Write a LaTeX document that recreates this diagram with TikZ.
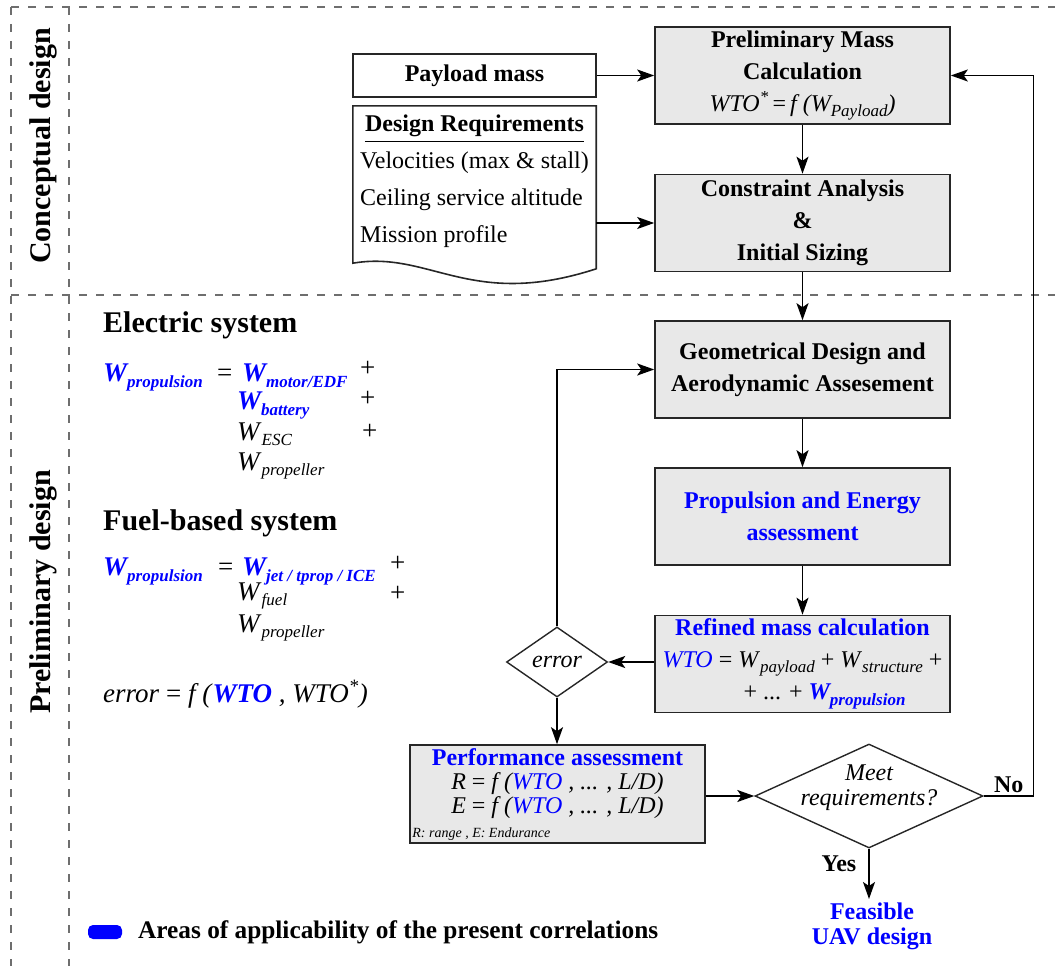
\documentclass[tikz,border=0pt]{standalone}
\usepackage{fontspec}
\setmainfont{Liberation Serif}
\usetikzlibrary{arrows.meta, shapes.geometric, positioning}

\definecolor{uavblue}{RGB}{0,0,255}
\definecolor{boxgray}{RGB}{232,232,232}
\definecolor{dashgray}{RGB}{110,110,110}

% W with a lowered subscript, plain and highlighted
\newcommand{\Wi}[1]{\textit{W}\raisebox{-5pt}{\fontsize{17}{17}\selectfont\itshape #1}}
\newcommand{\Wbl}[1]{{\color{uavblue}\bfseries\itshape W\raisebox{-6pt}{\fontsize{17}{17}\selectfont\bfseries\itshape #1}}}

\tikzset{
  procbox/.style={draw=black!85, line width=1.6pt, fill=boxgray, minimum width=295pt,
    minimum height=97pt, inner sep=0pt, align=center, font=\fontsize{24}{32}\selectfont\bfseries},
  decision/.style={diamond, draw=black!85, line width=1.4pt, inner sep=0pt},
  flow/.style={line width=1.5pt, -{Stealth[length=17pt, width=12pt, inset=4pt]}},
  zone/.style={dashgray, line width=1.4pt, dash pattern=on 8pt off 9pt},
  sidelabel/.style={rotate=90, font=\fontsize{30}{36}\selectfont\bfseries},
  heading/.style={anchor=west, inner sep=0pt, font=\fontsize{30}{36}\selectfont\bfseries},
  eqtext/.style={anchor=base west, inner sep=0pt, font=\fontsize{27}{30}\selectfont},
}

\begin{document}
\begin{tikzpicture}[x=1pt, y=-1pt]

  \useasboundingbox (0,0) rectangle (1055,966);

  % Design phases
  \draw[zone] (11,7) -- (1055,7);
  \draw[zone] (11,295) -- (1055,295);
  \draw[zone] (11,7) -- (11,966);
  \draw[zone] (69,7) -- (69,966);
  \node[sidelabel] (concept) at (43,146) {Conceptual design};
  \node[sidelabel] (prelimdes) at (43,592) {Preliminary design};

  % Inputs
  \node[procbox, fill=white, minimum width=243pt, minimum height=43pt] (payload) at (474.5,75.5) {Payload mass};
  \node[minimum width=243pt, minimum height=157pt, inner sep=0pt] (req) at (474.5,184.5) {};
  \draw[line width=1.6pt, draw=black!85] (req.south west) -- (req.north west) -- (req.north east)
    -- ++(0,163) .. controls (470,310) and (430,250) .. (req.south west) -- cycle;
  \node[font=\fontsize{24}{24}\selectfont\bfseries, inner sep=0pt] (reqtitle) at (474.5,126) {Design Requirements};
  \draw[line width=1.4pt] ([yshift=-10pt]reqtitle.base west) -- ([yshift=-10pt]reqtitle.base east);
  \node[anchor=west, align=left, inner sep=0pt, font=\fontsize{24}{37}\selectfont] (reqlist) at (360,200)
    {Velocities (max \& stall)\\Ceiling service altitude\\Mission profile};

  % Main chain
  \node[procbox] (prelim) at (802.5,75.5) {Preliminary Mass\\Calculation\\
    {\normalfont\itshape WTO\textsuperscript{*}\,\textup{=}\,f (\Wi{Payload})}};
  \node[procbox] (cons) at (802.5,223) {Constraint Analysis\\\&\\Initial Sizing};
  \node[procbox] (geo) at (802.5,369.5) {Geometrical Design and\\Aerodynamic Assesement};
  \node[procbox, text=uavblue] (prop) at (802.5,516.5) {Propulsion and Energy\\assessment};
  \node[procbox] (refined) at (802.5,664) {\textcolor{uavblue}{Refined mass calculation}\\
    {\normalfont\textcolor{uavblue}{\itshape WTO} = \Wi{payload} + \Wi{structure} +}\\
    {\normalfont\hspace*{44pt}+ ... + \Wbl{propulsion}}};

  \node[decision, minimum width=101pt, minimum height=70pt, font=\fontsize{24}{24}\selectfont\itshape] (err) at (557,662) {error};

  \node[procbox, minimum height=98pt] (perf) at (557.5,794) {};
  \node[align=center, font=\fontsize{24}{24}\selectfont] (perftxt) at (557.5,784)
    {\textcolor{uavblue}{\bfseries Performance assessment}\\
     \textit{R} = \textit{f (\textcolor{uavblue}{WTO} , ... , L/D)}\\
     \textit{E} = \textit{f (\textcolor{uavblue}{WTO} , ... , L/D)}};
  \node[anchor=south west, inner sep=3pt, font=\fontsize{14}{14}\selectfont\itshape] (perfnote) at (perf.south west) {R: range , E: Endurance};

  \node[decision, minimum width=228pt, minimum height=104pt] (meet) at (869,796) {};
  \node[align=center, font=\fontsize{24}{25}\selectfont\itshape] (meettxt) at (869,788) {Meet\\requirements?};
  \node[align=center, text=uavblue, font=\fontsize{24}{25}\selectfont\bfseries] (feas) at (872,926) {Feasible\\UAV design};

  % Connectors
  \draw[flow] (payload.east) -- (prelim.west);
  \draw[flow] (cons.west -| req.east) -- (cons.west);
  \draw[flow] (prelim) -- (cons);
  \draw[flow] (cons) -- (geo);
  \draw[flow] (geo) -- (prop);
  \draw[flow] (prop) -- (refined);
  \draw[flow] (err.east -| refined.west) -- (err.east);
  \draw[flow] (err.north) |- (geo.west);
  \draw[flow] (err.south) -- (err.south |- perf.north);
  \draw[flow] (meet.west -| perf.east) -- (meet.west);
  \draw[flow] (meet.east) -- ++(50,0) node[midway, above, inner sep=3pt, font=\fontsize{24}{24}\selectfont\bfseries] (nolbl) {No} |- (prelim.east);
  \draw[flow] (meet.south) -- node[pos=0.3, left, inner sep=0pt, xshift=-12pt, font=\fontsize{24}{24}\selectfont\bfseries] (yeslbl) {Yes} (meet.south |- feas.north);

  % Electric system
  \node[heading] (elechead) at (103,325) {Electric system};
  \node[eqtext] (e1a) at (103,381) {\Wbl{propulsion}};
  \node[eqtext] (e1b) at (217,381) {=};
  \node[eqtext] (e1c) at (242,381) {\Wbl{motor/EDF}};
  \node[eqtext] (e1d) at (360,376) {+};
  \node[eqtext] (e2a) at (237,409) {\Wbl{battery}};
  \node[eqtext] (e2d) at (360,406) {+};
  \node[eqtext] (e3a) at (237,440) {\Wi{ESC}};
  \node[eqtext] (e3d) at (362,439) {+};
  \node[eqtext] (e4a) at (237,470) {\Wi{propeller}};

  % Fuel-based system
  \node[heading] (fuelhead) at (103,523) {Fuel-based system};
  \node[eqtext] (f1a) at (103,575) {\Wbl{propulsion}};
  \node[eqtext] (f1b) at (218,575) {=};
  \node[eqtext] (f1c) at (242,575) {\Wbl{jet / tprop / ICE}};
  \node[eqtext] (f1d) at (390,571) {+};
  \node[eqtext] (f2a) at (237,600) {\Wi{fuel}};
  \node[eqtext] (f2d) at (390,601) {+};
  \node[eqtext] (f3a) at (237,632) {\Wi{propeller}};
  \node[eqtext] (errdef) at (103,702) {\textit{error} = \textit{f (}\textcolor{uavblue}{\bfseries\itshape WTO}\textit{ , WTO\textsuperscript{*})}};

  % Legend
  \node[fill=uavblue, rounded corners=5pt, minimum width=34pt, minimum height=14pt, inner sep=0pt] (legkey) at (105,932) {};
  \node[anchor=west, inner sep=0pt, font=\fontsize{25.3}{26}\selectfont\bfseries] (legtxt) at (138,932) {Areas of applicability of the present correlations};

\end{tikzpicture}
\end{document}
